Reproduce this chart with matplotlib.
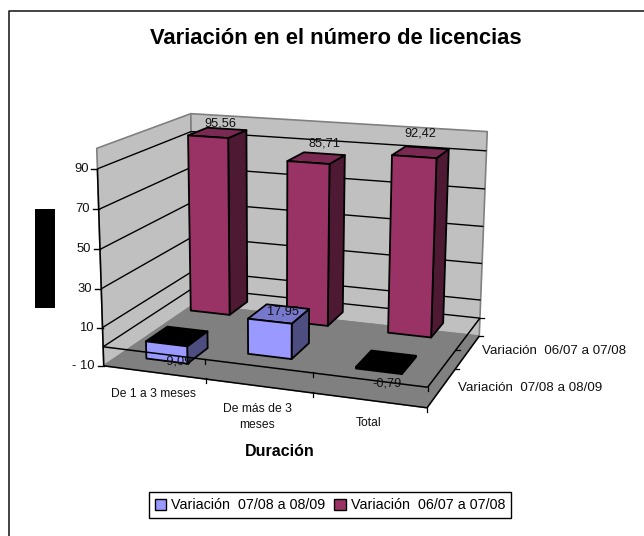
import numpy as np
import matplotlib
matplotlib.use("Agg")
import matplotlib.pyplot as plt
from matplotlib.patches import Polygon, Rectangle, Patch

plt.rcParams["font.family"] = ["Liberation Sans", "DejaVu Sans"]

categories = ["De 1 a 3 meses", "De más de 3\nmeses", "Total"]
series_names = ["Variación  07/08 a 08/09", "Variación  06/07 a 07/08"]
values_0809 = [-9.09, 17.95, -0.79]
values_0607 = [95.56, 85.71, 92.42]
labels_0809 = ["-9,09", "17,95", "-0,79"]
labels_0607 = ["95,56", "85,71", "92,42"]
value_ticks = [-10, 10, 30, 50, 70, 90]
value_min, value_max = -10, 100

# camera fit: (category, depth, value) -> pixel, read from the wall corners
world = np.array([(0, 0, -10), (3, 0, -10), (3, 2, -10), (0, 2, -10), (0, 0, 100), (0, 2, 100),
                  (3, 2, 100), (0, 0, 90), (0, 0, 50), (0, 0, 10), (3, 0, 0), (3, 2, 0)], float)
pixel = np.array([(105, 366), (427, 408), (480, 335), (192, 305), (96, 148), (192, 114),
                  (487, 132), (97, 168), (100, 250), (103, 327), (427, 388), (480, 318)], float)
rows = []
for (a, b, c), (u, v) in zip(world, pixel):
    rows.append([a, b, c, 1, 0, 0, 0, 0, -u * a, -u * b, -u * c, -u])
    rows.append([0, 0, 0, 0, a, b, c, 1, -v * a, -v * b, -v * c, -v])
cam = np.linalg.svd(np.array(rows))[2][-1].reshape(3, 4)


def proj(c, d, v):
    p = cam @ np.array([c, d, v, 1.0])
    return p[0] / p[2], p[1] / p[2]


fig = plt.figure(figsize=(6.44, 5.36), dpi=100, facecolor="white")
ax = fig.add_axes([0, 0, 1, 1])
ax.set_xlim(0, 644)
ax.set_ylim(536, 0)
ax.axis("off")


def face(points, color, z, edge="black", lw=1.3):
    ax.add_patch(Polygon([proj(*p) for p in points], closed=True, facecolor=color,
                         edgecolor=edge, linewidth=lw, zorder=z, joinstyle="round"))


def line(a, b, z=2, color="black", lw=1.0):
    xa, ya = proj(*a)
    xb, yb = proj(*b)
    ax.plot([xa, xb], [ya, yb], color=color, lw=lw, zorder=z, solid_capstyle="butt")


def box(c0, c1, d0, d1, v0, v1, front, side, top, z):
    face([(c1, d0, v0), (c1, d1, v0), (c1, d1, v1), (c1, d0, v1)], side, z)
    face([(c0, d0, v1), (c1, d0, v1), (c1, d1, v1), (c0, d1, v1)], top, z)
    face([(c0, d0, v0), (c1, d0, v0), (c1, d0, v1), (c0, d0, v1)], front, z)


# walls and floor
face([(0, 0, value_min), (0, 2, value_min), (0, 2, value_max), (0, 0, value_max)], "#C0C0C0", 1, "#808080", 1.2)
face([(0, 2, value_min), (3, 2, value_min), (3, 2, value_max), (0, 2, value_max)], "#C0C0C0", 1, "#808080", 1.2)
face([(0, 0, value_min), (3, 0, value_min), (3, 2, value_min), (0, 2, value_min)], "#808080", 1.5, "#808080", 1.0)

for v in value_ticks[1:] + [0]:
    line((0, 0, v), (0, 2, v))
    line((0, 2, v), (3, 2, v))

# value axis
line((0, 0, value_min), (0, 0, value_max * 0.9), z=3, lw=1.1)
for v in value_ticks:
    x, y = proj(0, 0, v)
    ax.plot([x - 6, x], [y, y], color="black", lw=1.0, zorder=3)
    ax.text(x - 9, y, str(v).replace("-", "- "), ha="right", va="center", fontsize=9.4, color="#111111")

# bars rise from the zero plane, back row first
hw = 0.205
back_d = (1.27, 1.73)
front_d = (0.27, 0.73)
for i, v in enumerate(values_0607):
    box(i + 0.5 - hw, i + 0.5 + hw, back_d[0], back_d[1], 0, v, "#993366", "#4D1933", "#7A2952", 4 + (2 - i) * 0.1)
for i, v in enumerate(values_0809):
    top = "black" if v < 0 else "#7777CC"
    box(i + 0.5 - hw, i + 0.5 + hw, front_d[0], front_d[1], min(v, 0), max(v, 0), "#9999FF", "#4D4D80", top, 5 + (2 - i) * 0.1)

# category and series axes
for v, z in ((0, 6), (value_min, 3)):
    line((0, 0, v), (3, 0, v), z=z, lw=1.1)
    line((3, 0, v), (3, 2, v), z=z, lw=1.1)
    for i in range(1, 4):
        x, y = proj(i, 0, v)
        ax.plot([x, x], [y - 1, y + 4], color="black", lw=0.9, zorder=z)
    for d in (1, 2):
        x, y = proj(3, d, v)
        ax.plot([x, x + 4], [y, y], color="black", lw=0.9, zorder=z)

# value labels
for x, y, s in zip((220, 324, 420), (123, 143, 134), labels_0607):
    ax.text(x, y, s, ha="center", va="center", fontsize=9.2, color="#111111", zorder=8)
for x, y, s in zip((177, 283, 387), (362, 312, 384), labels_0809):
    ax.text(x, y, s, ha="center", va="center", fontsize=9.2, color="#111111", zorder=8)

# axis texts
for x, y, s in zip((154, 257, 369), (394, 417, 423), categories):
    ax.text(x, y, s, ha="center", va="center", fontsize=8.7, color="#111111", linespacing=1.55)
ax.text(482, 351, series_names[1], ha="left", va="center", fontsize=9.6, color="#111111")
ax.text(458, 388, series_names[0], ha="left", va="center", fontsize=9.6, color="#111111")

ax.text(336, 38, "Variación en el número de licencias", ha="center", va="center",
        fontsize=15.8, fontweight="bold", color="black")
ax.text(280, 452, "Duración", ha="center", va="center", fontsize=11.5, fontweight="bold", color="black")

# hidden axis title block and chart border (no right or bottom side in the crop)
ax.add_patch(Rectangle((35, 209), 20, 99, facecolor="black", edgecolor="none", zorder=9))
ax.plot([9.5, 9.5, 644], [536, 10.5, 10.5], color="#222222", lw=1.2, zorder=9)

handles = [Patch(facecolor="#9999FF", edgecolor="black", linewidth=1.0, label=series_names[0]),
           Patch(facecolor="#993366", edgecolor="black", linewidth=1.0, label=series_names[1])]
leg = ax.legend(handles=handles, loc="center", bbox_to_anchor=(330, 505), bbox_transform=ax.transData,
                ncol=2, fontsize=10.3, fancybox=False, edgecolor="black", framealpha=1,
                handlelength=0.8, handleheight=0.8, handletextpad=0.35, columnspacing=0.6,
                borderpad=0.45, borderaxespad=0)
leg.get_frame().set_linewidth(1.0)

fig.savefig("out.png", dpi=100, facecolor="white")
